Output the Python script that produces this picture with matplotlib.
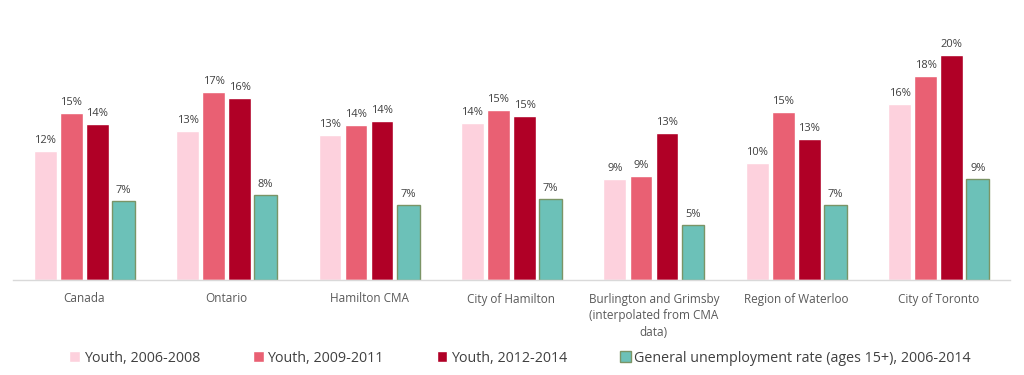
import matplotlib.pyplot as plt
import numpy as np

plt.rcParams['font.family'] = ['Open Sans', 'DejaVu Sans']

categories = ["Canada", "Ontario", "Hamilton CMA", "City of Hamilton",
              "Burlington and Grimsby\n(interpolated from CMA\ndata)",
              "Region of Waterloo", "City of Toronto"]
series_names = ["Youth, 2006-2008", "Youth, 2009-2011", "Youth, 2012-2014",
                "General unemployment rate (ages 15+), 2006-2014"]

youth_0608 = [11.6, 13.4, 13.0, 14.1, 9.1, 10.5, 15.8]
youth_0911 = [15.0, 16.9, 13.9, 15.3, 9.3, 15.1, 18.3]
youth_1214 = [14.0, 16.3, 14.3, 14.7, 13.2, 12.7, 20.2]
general_0614 = [7.1, 7.6, 6.7, 7.3, 4.9, 6.7, 9.1]

colors = ['#FDD1DD', '#E96073', '#B00026', '#6CC1B8']
edges = ['white', 'white', 'white', '#7B9466']

fig = plt.figure(figsize=(10.24, 3.75), dpi=100)
ax = fig.add_axes([13 / 1024, 1 - 280 / 375, 997 / 1024, 245 / 375])

x = np.arange(len(categories))
step = 0.183
width = 0.16
all_series = [youth_0608, youth_0911, youth_1214, general_0614]
for i, vals in enumerate(all_series):
    pos = x + (i - 1.5) * step
    bars = ax.bar(pos, vals, width=width, color=colors[i], edgecolor=edges[i],
                  linewidth=1.0, label=series_names[i])
    for b, v in zip(bars, vals):
        ax.text(b.get_x() + b.get_width() / 2, v + 0.45, f"{round(v)}%",
                ha='center', va='bottom', fontsize=8, color='#404040')

ax.set_xlim(-0.5, len(categories) - 0.5)
ax.set_ylim(0, 22)
ax.set_xticks(x)
ax.set_xticklabels(categories, fontsize=8.5, color='#595959', linespacing=1.35)
ax.tick_params(axis='x', length=0, pad=9)
ax.set_yticks([])
for s in ['top', 'right', 'left']:
    ax.spines[s].set_visible(False)
ax.spines['bottom'].set_color('#D9D9D9')
ax.spines['bottom'].set_linewidth(1.0)

fig.legend(loc='center', bbox_to_anchor=(0.508, 0.045), ncol=4, frameon=False,
           fontsize=10.3, handlelength=0.75, handleheight=0.75, handletextpad=0.25,
           columnspacing=3.7, labelcolor='#404040')

fig.savefig('out.png', dpi=100)
